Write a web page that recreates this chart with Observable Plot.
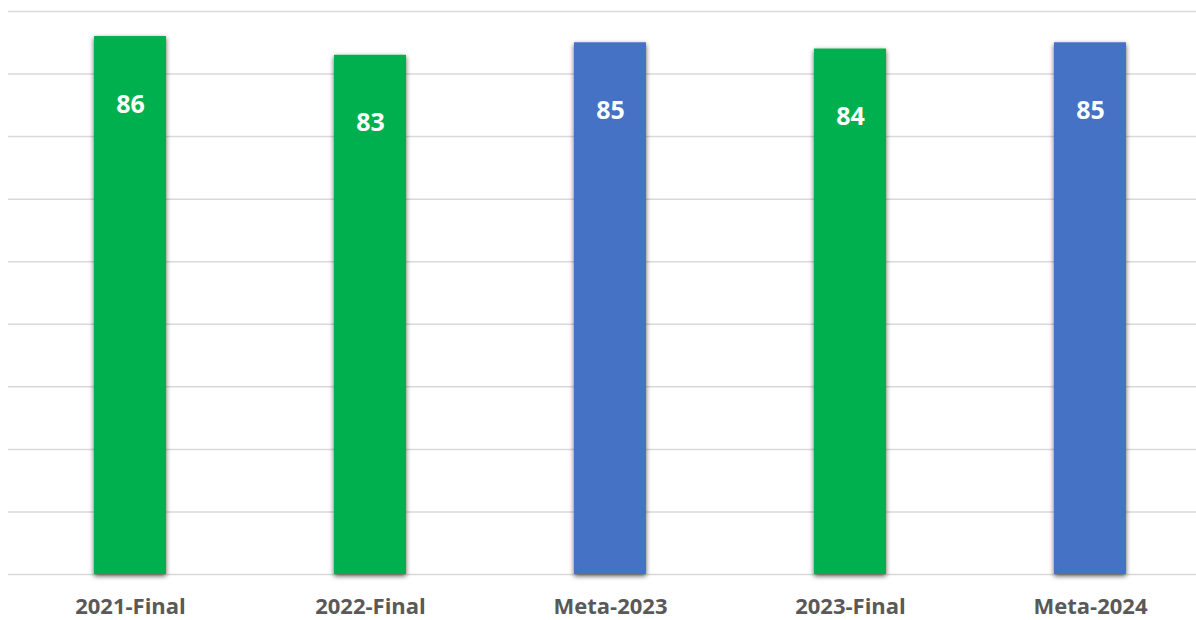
<!DOCTYPE html>
<html>
<head>
<meta charset="utf-8">
<script src="https://cdn.jsdelivr.net/npm/d3@7"></script>
<script src="https://cdn.jsdelivr.net/npm/@observablehq/plot@0.6"></script>
<style>
  html, body { margin: 0; padding: 0; background: #fff; }
  #chart { width: 1196px; height: 620px; overflow: hidden; }
</style>
</head>
<body>
<div id="chart"></div>
<script>
const categories = ["2021-Final", "2022-Final", "Meta-2023", "2023-Final", "Meta-2024"];
const values = [86, 83, 85, 84, 85];
const kinds = ["Final", "Final", "Meta", "Final", "Meta"];
const gridTicks = [0, 10, 20, 30, 40, 50, 60, 70, 80, 90];

const data = categories.map((c, i) => ({category: c, value: values[i], kind: kinds[i]}));

const plot = Plot.plot({
  width: 1196,
  height: 620,
  marginTop: 11,
  marginBottom: 46,
  marginLeft: 8,
  marginRight: 0,
  style: {background: "#fff", overflow: "visible"},
  x: {domain: categories, range: [7.5, 1212], paddingInner: 0.7, paddingOuter: 0.35, label: null},
  y: {domain: [0, 90], label: null},
  color: {domain: ["Final", "Meta"], range: ["#00b050", "#4472c4"]},
  marks: [
    Plot.ruleY(gridTicks, {stroke: "#d9d9d9", strokeWidth: 1.5}),
    Plot.barY(data, {x: "category", y: "value", fill: "kind"}),
    Plot.text(data, {x: "category", y: "value", text: d => String(d.value), dy: 68,
      fill: "#fff", fontSize: 25, fontWeight: "bold", fontFamily: "'Open Sans', sans-serif"}),
    Plot.axisX({tickSize: 0, tickPadding: 24, fontSize: 22, fontWeight: "bold",
      fontFamily: "'Open Sans', sans-serif", color: "#595959", label: null}),
    Plot.axisY({ticks: [], label: null})
  ]
});

const svg = d3.select(plot);
const defs = svg.insert("defs", ":first-child");
const f = defs.append("filter").attr("id", "barShadow").attr("x", "-20%").attr("y", "-5%").attr("width", "140%").attr("height", "110%");
f.append("feDropShadow").attr("dx", 0).attr("dy", 2).attr("stdDeviation", 2.5).attr("flood-color", "#000").attr("flood-opacity", 0.65);
svg.selectAll("g[aria-label='bar'] rect").attr("filter", "url(#barShadow)");
svg.selectAll("g[aria-label='x-axis tick label'] text").attr("fill", "#595959");

document.getElementById("chart").appendChild(plot);
</script>
</body>
</html>
